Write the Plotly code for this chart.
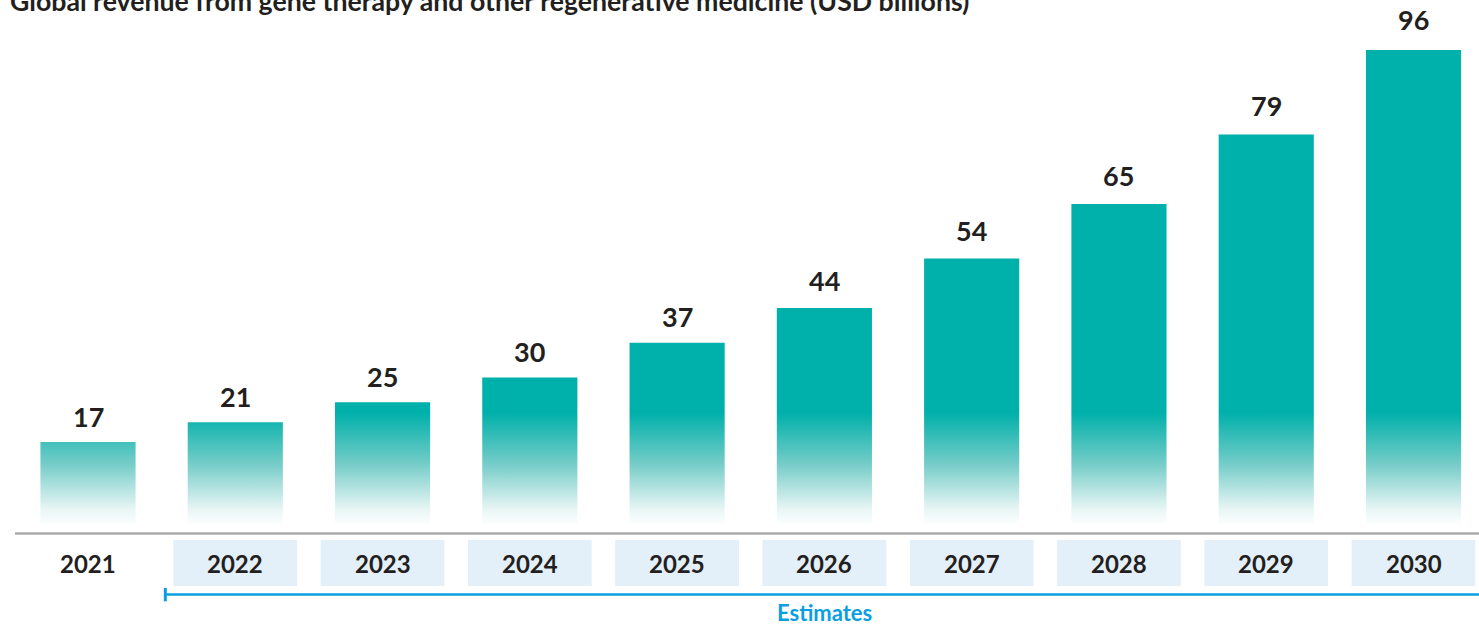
import plotly.graph_objects as go

years = ["2021", "2022", "2023", "2024", "2025", "2026", "2027", "2028", "2029", "2030"]
revenue = [17, 21, 25, 30, 37, 44, 54, 65, 79, 96]
estimate_years = years[1:]
title_text = "Global revenue from gene therapy and other regenerative medicine (USD billions)"
estimates_label = "Estimates"

TEAL = "#00B0AA"
DARK = "#231F20"
BLUE = "#0A9FE0"
BOX = "#E3EFF9"
FONT = "Lato"

W, H = 1479, 624
bar_half = 0.323
box_half = 0.42

xmin, xmax = -0.5975, 9.4447
ymin, ymax = -19.67, 106.09

fig = go.Figure()

# bars as filled polygons with vertical gradient
xs, ys = [], []
for i, v in enumerate(revenue):
    xs += [i - bar_half, i + bar_half, i + bar_half, i - bar_half, i - bar_half, None]
    ys += [0, 0, v, v, 0, None]
fig.add_trace(go.Scatter(
    x=xs, y=ys, mode="lines", fill="toself", line=dict(width=0),
    fillgradient=dict(type="vertical",
                      colorscale=[[0, "#FFFFFF"], [0.15, "#E6F5F4"], [0.55, "#74CCC8"], [1, TEAL]],
                      start=0.2, stop=22.9),
    hoverinfo="skip", showlegend=False))

# value labels
for i, v in enumerate(revenue):
    fig.add_annotation(x=i, y=v, text=str(v), showarrow=False, yanchor="bottom",
                       yshift=6 + 0.06 * v,
                       font=dict(family=FONT, size=27, color=DARK, weight="bold"))

# baseline
fig.add_shape(type="line", xref="paper", x0=15 / W, x1=1, yref="y", y0=-1.43, y1=-1.43,
              line=dict(color="#ABABAB", width=2.5))

# estimate boxes
for i, yr in enumerate(years):
    if yr in estimate_years:
        fig.add_shape(type="rect", x0=i - box_half, x1=i + box_half, y0=-12.0, y1=-2.74,
                      fillcolor=BOX, line=dict(width=0), layer="below")
    fig.add_annotation(x=i, y=-7.5, text=yr, showarrow=False, yanchor="middle",
                       font=dict(family=FONT, size=24, color=DARK, weight="bold"))

# estimates bracket
first_est = years.index(estimate_years[0])
x_start = first_est - box_half - 0.055
fig.add_shape(type="line", x0=x_start, x1=xmax, y0=-13.7, y1=-13.7,
              line=dict(color=BLUE, width=2.5))
fig.add_shape(type="line", x0=x_start, x1=x_start, y0=-12.4, y1=-15.1,
              line=dict(color=BLUE, width=3))
fig.add_annotation(x=(first_est + len(years) - 1) / 2, y=-17.4, text=estimates_label,
                   showarrow=False, yanchor="middle",
                   font=dict(family=FONT, size=22, color=BLUE, weight="bold"))

# title (cut off at top, as in the reference)
fig.add_annotation(xref="paper", yref="paper", x=8 / W, y=1 - 1 / H, text=title_text,
                   showarrow=False, xanchor="left", yanchor="middle",
                   font=dict(family=FONT, size=26.7, color=DARK, weight="bold"))

fig.update_layout(
    width=W, height=H, autosize=False,
    margin=dict(l=0, r=0, t=0, b=0),
    plot_bgcolor="white", paper_bgcolor="white",
    xaxis=dict(range=[xmin, xmax], visible=False, fixedrange=True),
    yaxis=dict(range=[ymin, ymax], visible=False, fixedrange=True),
    showlegend=False,
)

fig.write_html("out.html", config={"displayModeBar": False},
               post_script="document.body.style.margin='0';document.body.style.overflow='hidden';")
